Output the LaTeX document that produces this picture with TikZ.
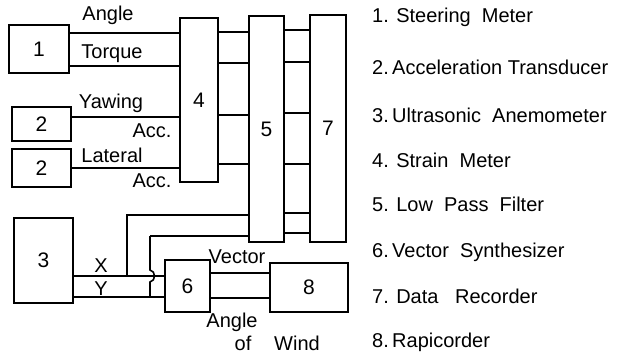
\documentclass[tikz,border=0pt]{standalone}
\usepackage{fontspec}
\setmainfont{Liberation Sans}
\begin{document}
\begin{tikzpicture}[x=1pt,y=-1pt,
  blk/.style={draw,line width=1.6pt,rectangle,inner sep=0pt,font=\fontsize{21}{24}\selectfont},
  wire/.style={line width=1.6pt},
  lbl/.style={anchor=base,inner sep=0pt,font=\fontsize{20}{24}\selectfont},
  item/.style={anchor=base west,inner sep=0pt,font=\fontsize{20}{24}\selectfont}]
\useasboundingbox (0,0) rectangle (627,353);
% boxes
\node[blk,minimum width=60pt,minimum height=48pt] (b1) at (39,49) {1};
\node[blk,minimum width=59pt,minimum height=34pt] (b2a) at (41.5,124) {2};
\node[blk,minimum width=59pt,minimum height=38pt] (b2b) at (41.5,168) {2};
\node[blk,minimum width=59pt,minimum height=85pt] (b3) at (43.5,260.5) {3};
\node[blk,minimum width=38pt,minimum height=164pt] (b4) at (199,100) {4};
\node[blk,minimum width=35pt,minimum height=226pt] (b5) at (266.5,129) {5};
\node[blk,minimum width=36pt,minimum height=227pt] (b7) at (328,128.5) {7};
\node[blk,minimum width=45pt,minimum height=52pt] (b6) at (187.5,286) {6};
\node[blk,minimum width=78pt,minimum height=49pt] (b8) at (309,287.5) {8};
% wires 1,2 -> 4
\draw[wire] (b1.east|-{(0,33)}) -- (b4.west|-{(0,33)});
\draw[wire] (b1.east|-{(0,66)}) -- (b4.west|-{(0,66)});
\draw[wire] (b2a.east|-{(0,117)}) -- (b4.west|-{(0,117)});
\draw[wire] (b2b.east|-{(0,168)}) -- (b4.west|-{(0,168)});
% wires 4 -> 5
\foreach \yy in {32,63,115,164}
  \draw[wire] (b4.east|-{(0,\yy)}) -- (b5.west|-{(0,\yy)});
% wires 5 -> 7
\foreach \yy in {30,62,113,164,213,233}
  \draw[wire] (b5.east|-{(0,\yy)}) -- (b7.west|-{(0,\yy)});
% wires 3 -> 6
\draw[wire] (b3.east|-{(0,276)}) -- (b6.west|-{(0,276)});
\draw[wire] (b3.east|-{(0,297)}) -- (b6.west|-{(0,297)});
% X and Y branches up to 5
\coordinate (xa) at (127,276);
\coordinate (ya) at (150,297);
\coordinate (yb) at (150,236);
\draw[wire] (xa) -- (127,215) -- (b5.west|-{(0,215)});
\draw[wire] (yb) -- (b5.west|-{(0,236)});
\draw[wire] (ya) -- (150,282) .. controls (156,281) and (156,271) .. (150,270) -- (yb);
% wires 6 -> 8
\draw[wire] (b6.east|-{(0,273)}) -- (b8.west|-{(0,273)});
\draw[wire] (b6.east|-{(0,298)}) -- (b8.west|-{(0,298)});
% labels
\node[lbl] (lAngle) at (108,21) {Angle};
\node[lbl] (lTorque) at (112,59) {Torque};
\node[lbl] (lYaw) at (111,109) {Yawing};
\node[lbl] (lAcc1) at (152,137) {Acc.};
\node[lbl] (lLat) at (112,162) {Lateral};
\node[lbl] (lAcc2) at (152,187) {Acc.};
\node[lbl] (lX) at (101,272) {X};
\node[lbl] (lY) at (101,295) {Y};
\node[lbl] (lVec) at (237,263) {Vector};
\node[lbl] (lAng2) at (232,327) {Angle};
\node[lbl] (lof) at (243,350) {of};
\node[lbl] (lWind) at (297,350) {Wind};
% legend
\node[item] (i1) at (372,23) {1. Steering\ \ Meter};
\node[item] (i2) at (372,75) {2.\,Acceleration Transducer};
\node[item] (i3) at (372,122) {3.\,Ultrasonic\ \ Anemometer};
\node[item] (i4) at (372,167) {4. Strain\ \ Meter};
\node[item] (i5) at (372,211) {5. Low\ \ Pass\ \ Filter};
\node[item] (i6) at (372,257) {6.\,Vector\ \ Synthesizer};
\node[item] (i7) at (372,303) {7. Data\ \ \ Recorder};
\node[item] (i8) at (372,347) {8.\,Rapicorder};
\end{tikzpicture}
\end{document}
